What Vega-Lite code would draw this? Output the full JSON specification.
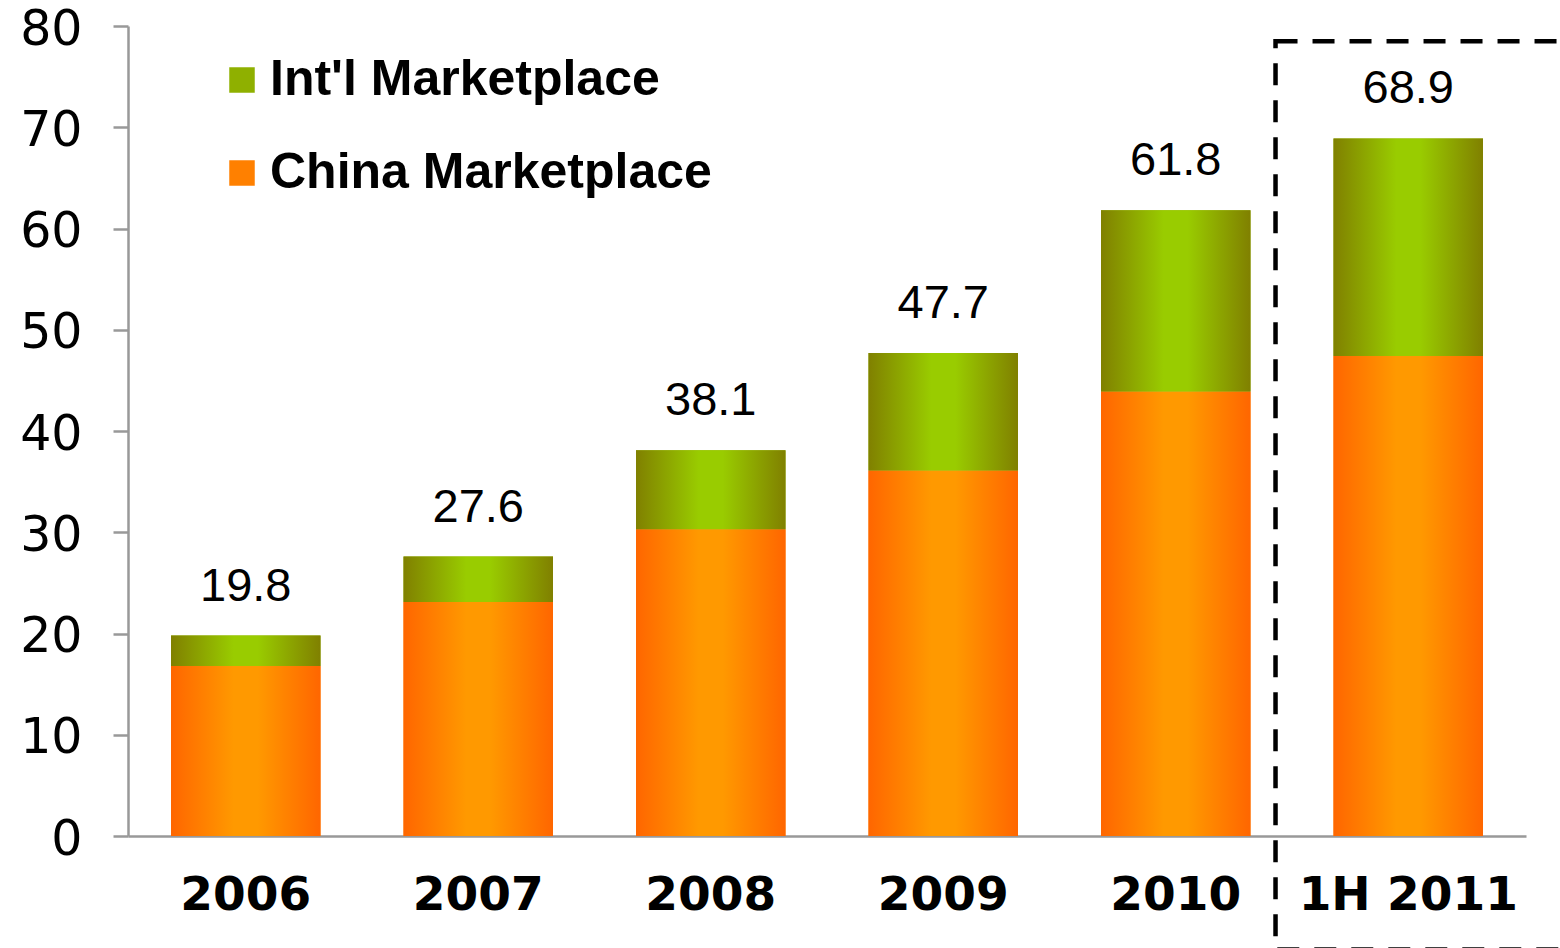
{
  "$schema": "https://vega.github.io/schema/vega-lite/v6.json",
  "width": 1398,
  "height": 810,
  "autosize": {"type": "none"},
  "padding": {"left": 128, "top": 26, "right": 34, "bottom": 112},
  "background": "white",
  "config": {"view": {"stroke": null}},
  "layer": [
    {
      "data": {
        "values": [
          {"period": "2006", "series": "China Marketplace", "value": 16.8},
          {"period": "2006", "series": "Int'l Marketplace", "value": 3.0},
          {"period": "2007", "series": "China Marketplace", "value": 23.1},
          {"period": "2007", "series": "Int'l Marketplace", "value": 4.5},
          {"period": "2008", "series": "China Marketplace", "value": 30.3},
          {"period": "2008", "series": "Int'l Marketplace", "value": 7.8},
          {"period": "2009", "series": "China Marketplace", "value": 36.1},
          {"period": "2009", "series": "Int'l Marketplace", "value": 11.6},
          {"period": "2010", "series": "China Marketplace", "value": 43.9},
          {"period": "2010", "series": "Int'l Marketplace", "value": 17.9},
          {"period": "1H 2011", "series": "China Marketplace", "value": 47.4},
          {"period": "1H 2011", "series": "Int'l Marketplace", "value": 21.5}
        ]
      },
      "transform": [
        {"stack": "value", "groupby": ["period"], "sort": [{"field": "series", "order": "ascending"}], "as": ["y0", "y1"]}
      ],
      "encoding": {
        "x": {
          "field": "period",
          "type": "nominal",
          "sort": null,
          "scale": {"paddingInner": 0.357, "paddingOuter": 0.185},
          "axis": {
            "title": null,
            "labelAngle": 0,
            "ticks": false,
            "tickSize": 0,
            "domainColor": "#999999",
            "domainWidth": 2.5,
            "labelFont": "DejaVu Sans",
            "labelFontWeight": "bold",
            "labelFontSize": 47,
            "labelColor": "#000000",
            "labelPadding": 36,
            "labelLimit": 0
          }
        }
      },
      "layer": [
        {
          "mark": {"type": "bar"},
          "encoding": {
            "y": {
              "field": "y1",
              "type": "quantitative",
              "scale": {"domain": [0, 80], "nice": false},
              "axis": {
                "title": null,
                "values": [0, 10, 20, 30, 40, 50, 60, 70, 80],
                "grid": false,
                "domainColor": "#999999",
                "domainWidth": 2.5,
                "tickColor": "#999999",
                "tickWidth": 2.5,
                "tickSize": 15,
                "labelFont": "DejaVu Sans",
                "labelFontSize": 49,
                "labelColor": "#000000",
                "labelPadding": 31,
                "labelOffset": 3
              }
            },
            "y2": {"field": "y0"},
            "color": {
              "field": "series",
              "type": "nominal",
              "scale": {
                "domain": ["Int'l Marketplace", "China Marketplace"],
                "range": ["#8FB000", "#FF8000"]
              },
              "legend": {
                "title": null,
                "orient": "none",
                "legendX": 89,
                "legendY": 29,
                "padding": 0,
                "symbolType": "square",
                "symbolSize": 650,
                "symbolStrokeWidth": 0,
                "labelFont": "Liberation Sans",
                "labelFontWeight": "bold",
                "labelFontSize": 50,
                "labelColor": "#000000",
                "labelOffset": 3,
                "labelLimit": 0,
                "rowPadding": 43
              }
            }
          }
        },
        {
          "transform": [{"filter": {"field": "series", "equal": "China Marketplace"}}],
          "mark": {
            "type": "bar",
            "color": {"gradient": "linear", "x1": 0, "y1": 0, "x2": 1, "y2": 0,
              "stops": [
                {"offset": 0, "color": "#FF6600"},
                {"offset": 0.42, "color": "#FF9900"},
                {"offset": 0.58, "color": "#FF9900"},
                {"offset": 1, "color": "#FF6600"}
              ]}
          },
          "encoding": {
            "y": {"field": "y1", "type": "quantitative"},
            "y2": {"field": "y0"}
          }
        },
        {
          "transform": [{"filter": {"field": "series", "equal": "Int'l Marketplace"}}],
          "mark": {
            "type": "bar",
            "color": {"gradient": "linear", "x1": 0, "y1": 0, "x2": 1, "y2": 0,
              "stops": [
                {"offset": 0, "color": "#808000"},
                {"offset": 0.42, "color": "#99CC00"},
                {"offset": 0.58, "color": "#99CC00"},
                {"offset": 1, "color": "#808000"}
              ]}
          },
          "encoding": {
            "y": {"field": "y1", "type": "quantitative"},
            "y2": {"field": "y0"}
          }
        },
        {
          "transform": [
            {"aggregate": [{"op": "sum", "field": "value", "as": "total"}], "groupby": ["period"]}
          ],
          "mark": {
            "type": "text",
            "font": "Liberation Sans",
            "fontSize": 47,
            "baseline": "alphabetic",
            "dy": -35,
            "color": "#000000"
          },
          "encoding": {
            "y": {"field": "total", "type": "quantitative"},
            "text": {"field": "total", "type": "quantitative", "format": ".1f"}
          }
        }
      ]
    },
    {
      "data": {"values": [{"box": "1H 2011"}]},
      "mark": {
        "type": "rect",
        "filled": false,
        "color": "#000000",
        "strokeWidth": 4.5,
        "strokeDash": [22, 15],
        "clip": false
      },
      "encoding": {
        "x": {"datum": 4.925, "type": "quantitative", "scale": {"domain": [0, 6], "nice": false, "zero": false}, "axis": null},
        "x2": {"datum": 6.6},
        "y": {"datum": 78.5, "type": "quantitative"},
        "y2": {"datum": -11.2}
      }
    }
  ],
  "resolve": {"scale": {"x": "independent"}, "axis": {"x": "independent"}}
}
